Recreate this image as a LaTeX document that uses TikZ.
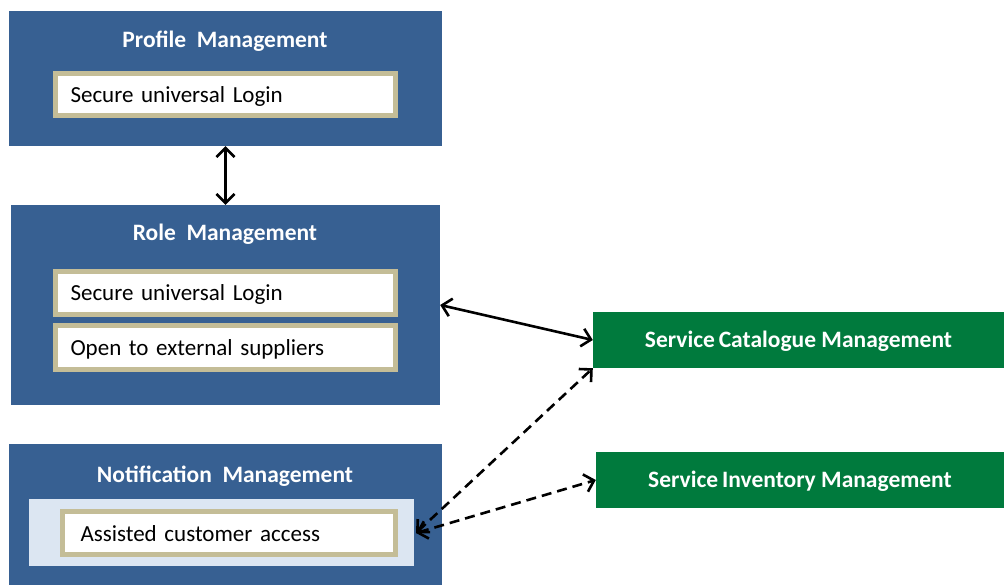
\documentclass[tikz,border=0pt]{standalone}
\usepackage{fontspec}
\setmainfont{Carlito}
\usetikzlibrary{arrows.meta}
\definecolor{panelblue}{HTML}{376092}
\definecolor{panelgreen}{HTML}{007A3D}
\definecolor{tanedge}{HTML}{C4BD97}
\definecolor{paleblue}{HTML}{DCE6F2}
\tikzset{
  panel/.style={draw=none, fill=panelblue, rectangle, inner sep=0pt},
  title/.style={text=white, font=\fontsize{23.5}{28}\selectfont\bfseries, inner sep=0pt, anchor=base},
  item/.style={draw=tanedge, line width=5pt, fill=white, rectangle, inner xsep=15pt,
    inner ysep=0pt, align=left, text width=310pt, minimum height=43pt,
    text height=19pt, text depth=3pt,
    font=\fontsize{23}{27}\selectfont, text=black},
  service/.style={draw=none, fill=panelgreen, rectangle, inner sep=0pt,
    text height=18pt, text depth=4pt,
    text=white, font=\fontsize{23.5}{28}\selectfont\bfseries},
  link/.style={line width=2.6pt, {Straight Barb[length=9pt,width=18pt]}-{Straight Barb[length=9pt,width=18pt]}},
}
\begin{document}
\begin{tikzpicture}[x=1pt,y=-1pt]
\useasboundingbox (0,0) rectangle (1004,585);

% Profile management panel
\node[panel, minimum width=433pt, minimum height=135pt] (profile) at (225.5,78.5) {};
\node[title] (profileTitle) at (225,47.5) {Profile\ \ Management};
\node[item, minimum height=42pt] (profileLogin) at (225.5,94.5) {Secure universal\ Login};

% Role management panel
\node[panel, minimum width=429pt, minimum height=200pt] (role) at (225.5,305) {};
\node[title] (roleTitle) at (225,240.5) {Role\ \ Management};
\node[item] (roleLogin) at (225.5,293) {Secure universal\ Login};
\node[item] (roleSuppliers) at (225.5,347.5) {Open to external suppliers};

% Notification management panel
\node[panel, minimum width=433pt, minimum height=142pt] (notif) at (225.5,515) {};
\node[title] (notifTitle) at (225,482) {Notification\ \ Management};
\node[rectangle, fill=paleblue, inner sep=0pt, minimum width=385pt, minimum height=67pt] (notifArea) at (221.5,532.5) {};
\node[item, inner xsep=18pt, text width=297pt] (notifAccess) at (229,533) {Assisted customer access};

% Service boxes
\node[service, minimum width=411pt, minimum height=56pt] (catalogue) at (798.5,340) {Service\hspace{-1.5pt} Catalogue Management};
\node[service, minimum width=408pt, minimum height=56pt] (inventory) at (800,480) {Service\hspace{-1.5pt} Inventory Management};

% Connectors
\coordinate (hub) at (416,533);
\draw[link] (profile.south) -- (role.north);
\draw[link] (role.east |- 0,305) -- (catalogue.west);
\draw[link, dash pattern=on 10pt off 6pt] (hub) -- (catalogue.south west);
\draw[link, dash pattern=on 10pt off 6pt] (hub) -- (inventory.west);
\end{tikzpicture}
\end{document}
